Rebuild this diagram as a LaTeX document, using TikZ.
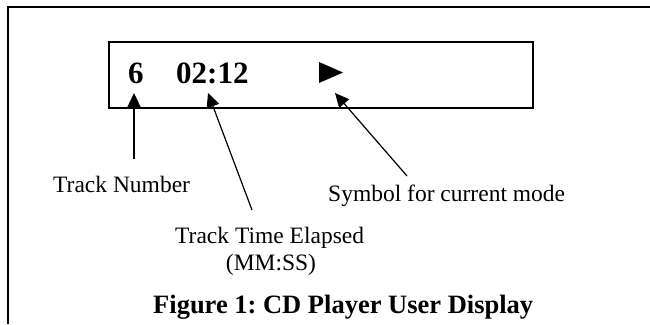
\documentclass[tikz,border=0pt]{standalone}
\usepackage{fontspec}
\setmainfont{Liberation Serif}
\usetikzlibrary{arrows.meta}
\frenchspacing
\begin{document}
\begin{tikzpicture}[x=1pt,y=-1pt,
  frame/.style={line width=2.2pt,black},
  lbl/.style={inner sep=0pt,anchor=base west,font=\fontsize{23.5}{27}\selectfont},
  digits/.style={inner sep=0pt,anchor=base west,font=\fontsize{31}{34}\selectfont\bfseries},
  pointer/.style={line width=1.2pt,-{Triangle[length=14pt,width=13pt]}}]
\useasboundingbox (0,0) rectangle (650,324);
% outer frame (clipped at right and bottom)
\draw[frame] (650,7) -- (8,7) -- (8,324);
% display box
\draw[frame] (109,42) rectangle (533,108);
\node[digits] (six) at (128,83) {6};
\node[digits] (time) at (176,83) {02:12};
\fill (319,62) -- (319,83) -- (343,72.5) -- cycle;
\coordinate (play) at (331,72.5);
% labels
\node[lbl] (tracknum) at (53,192) {Track Number};
\node[lbl] (elapsed) at (175,243) {Track Time Elapsed};
\node[lbl,anchor=base] (mmss) at (271,270) {(MM:SS)};
\node[lbl] (mode) at (328,201) {Symbol for current mode};
\node[inner sep=0pt,anchor=base west,font=\fontsize{26.5}{30}\selectfont\bfseries] (caption) at (153,313) {Figure 1: CD Player User Display};
% connector ends
\coordinate (t1) at (134,159);
\coordinate (h1) at (134,93);
\coordinate (t2) at (252,210);
\coordinate (h2) at (208,93);
\coordinate (t3) at (407,176);
\coordinate (h3) at (335,93);
\draw[pointer] (t1) -- (h1);
\draw[pointer] (t2) -- (h2);
\draw[pointer] (t3) -- (h3);
\end{tikzpicture}
\end{document}
